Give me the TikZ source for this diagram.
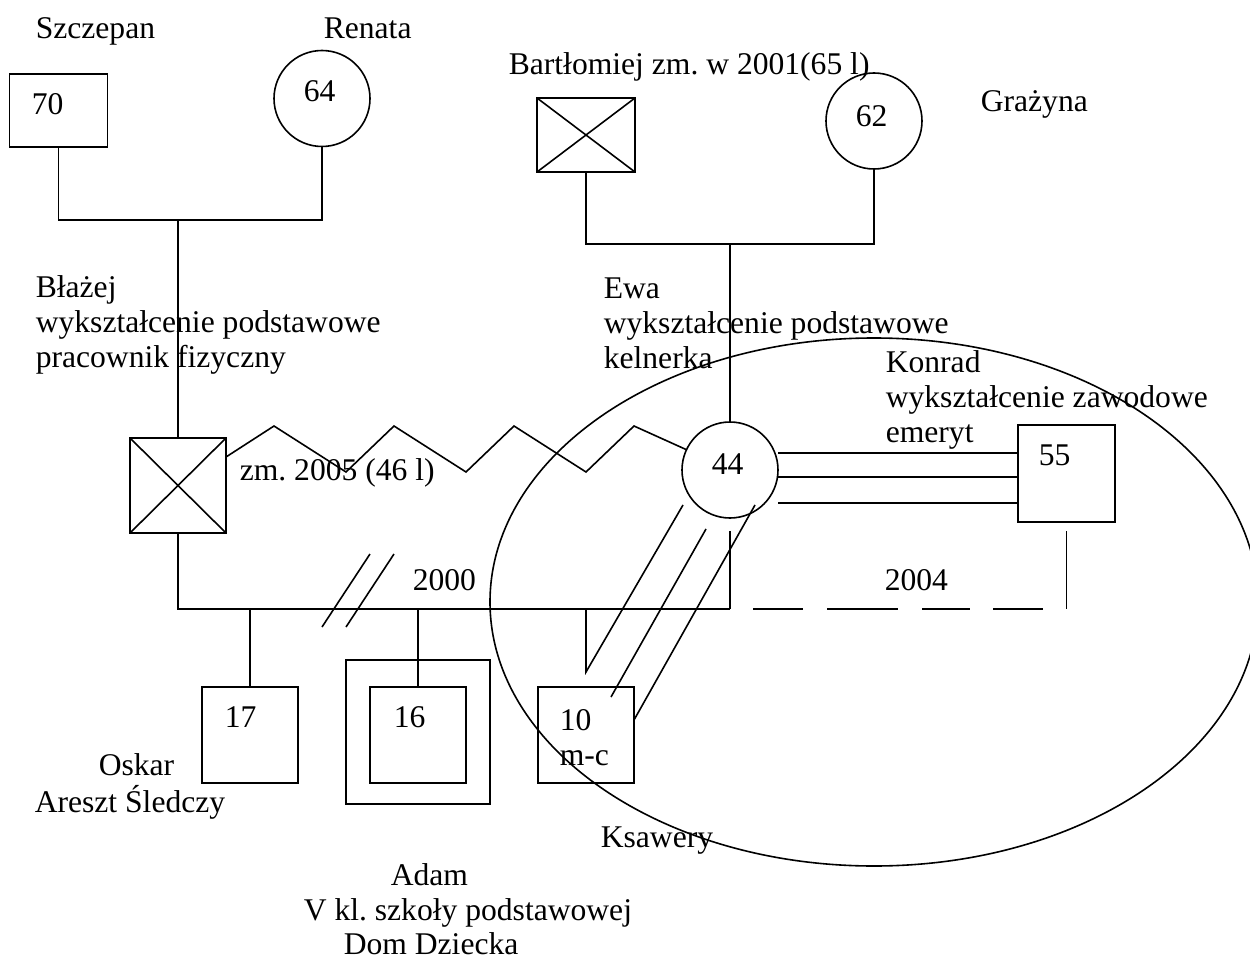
\documentclass[tikz,border=0pt]{standalone}
\usepackage{fontspec}
\setmainfont{Liberation Serif}
\usetikzlibrary{calc,shapes.geometric}
\newcommand{\famfont}{\fontsize{31.6pt}{35pt}\selectfont}
\frenchspacing

\begin{document}
\begin{tikzpicture}[x=1pt, y=-1pt, line width=1.6pt,
  every node/.style={font=\famfont},
  man/.style={draw, rectangle, inner sep=0pt, outer sep=0pt},
  woman/.style={draw, circle, minimum size=96pt, inner sep=0pt, outer sep=0pt},
  dead/.style={path picture={\draw[line width=1.6pt] (path picture bounding box.north west) -- (path picture bounding box.south east)
      (path picture bounding box.north east) -- (path picture bounding box.south west);}},
  lbl/.style={inner sep=0pt, anchor=base west, align=left},
  dashpat/.style={dash pattern=on 50pt off 24pt on 71pt off 24pt on 48pt off 23pt on 50pt off 47pt, dash phase=314pt}]
\useasboundingbox (0,0) rectangle (1250,960);
% grandparents, father's side
\node[man, minimum width=98pt, minimum height=73pt] (szczepan) at (58.5,110.5) {};
\node[woman] (renata) at (322,98.5) {};
\node[lbl] (tSzczepan) at (35,39) {Szczepan};
\node[lbl] (tRenata) at (323,39) {Renata};
\node[lbl] (n70) at (31,115) {70};
\node[lbl] (n64) at (303,102) {64};
\coordinate (m1) at (178,220);
\draw (szczepan.south) |- (m1) -| (renata.south);
% grandparents, mother's side
\node[man, dead, minimum width=98pt, minimum height=74pt] (bartlomiej) at (586,135) {};
\node[woman] (grazyna) at (874,121) {};
\node[lbl] (tBart) at (508,75) {Bartłomiej zm. w 2001(65 l)};
\node[lbl] (n62) at (855,127) {62};
\node[lbl] (tGrazyna) at (980,112) {Grażyna};
\coordinate (m2) at (730,244);
\draw (bartlomiej.south) |- (m2) -| (grazyna.south);
% parents (multi-line labels: base is the last line)
\node[man, dead, minimum width=96pt, minimum height=95pt] (blazej) at (178,485.5) {};
\node[woman] (ewa) at (730,470) {};
\node[man, minimum size=97pt] (konrad) at (1066.5,473.5) {};
\draw (m1) -- (blazej.north);
\draw (m2) -- (ewa.north);
\node[lbl] (tBlazej) at (35,367) {Błażej\\wykształcenie podstawowe\\pracownik fizyczny};
\node[lbl] (tEwa) at (603,368) {Ewa\\wykształcenie podstawowe\\kelnerka};
\node[lbl] (tKonrad) at (885,442) {Konrad\\wykształcenie zawodowe\\emeryt};
\node[lbl] (n44) at (711,474) {44};
\node[lbl] (n55) at (1038,465) {55};
\node[lbl] (tZm) at (239,480) {zm. 2005 (46 l)};
\draw ($(blazej.north east)+(0,19)$) -- ++(48,-31) -- ++(72,46) -- ++(48,-46) -- ++(72,46)
  -- ++(48,-46) -- ++(72,46) -- ++(48,-46) -- (ewa.155);
\foreach \dy in {-17,7,33}
  \draw ($(ewa.east)+(0,\dy)$) -- ($(ewa.east -| konrad.west)+(0,\dy)$);
% marriage lines
\coordinate (ml) at (178,609);
\draw (blazej.south) -- (ml) -- (ml -| ewa.south);
\draw ($(ewa.south)+(0,13)$) -- (ml -| ewa.south);
\draw[dashpat] (ml -| ewa.south) -- (ml -| konrad.south);
\draw ($(konrad.south)+(0,9)$) -- (ml -| konrad.south);
\draw ($(ml)+(144,18)$) -- ++(48,-73);
\draw ($(ml)+(168,18)$) -- ++(48,-73);
\node[lbl] (y2000) at (412,590) {2000};
\node[lbl] (y2004) at (884,590) {2004};
% children
\node[man, minimum size=96pt] (oskar) at (250,735) {};
\node[man, minimum size=144pt] (adamOut) at (418,732) {};
\node[man, minimum size=96pt] (adam) at (418,735) {};
\node[man, minimum size=96pt] (ksawery) at (586,735) {};
\draw (ml -| oskar.north) -- (oskar.north);
\draw (ml -| adam.north) -- (adam.north);
\draw (ml -| ksawery.north) -- ++(0,63) -- ($(ewa.center)+(-47,35)$);
\draw ($(ksawery.north)+(25,10)$) -- ($(ewa.center)+(-24,59)$);
\draw ($(ksawery.east)+(0,-15)$) -- ($(ewa.center)+(25,35)$);
\node[lbl] (n17) at (224,727) {17};
\node[lbl] (n16) at (393,727) {16};
\node[lbl] (n10) at (559,765) {10\\m-c};
\node[lbl] (tOskar) at (98,775) {Oskar};
\node[lbl] (tOskar2) at (34,812) {Areszt Śledczy};
\node[lbl] (tKsawery) at (600,847) {Ksawery};
\node[lbl] (tAdam) at (390,885) {Adam};
\node[lbl] (tAdam2) at (303,920) {V kl. szkoły podstawowej};
\node[lbl] (tAdam3) at (343,954) {Dom Dziecka};
% household
\node[draw, ellipse, minimum width=768pt, minimum height=528pt, inner sep=0pt] (home) at (874,602) {};
\end{tikzpicture}
\end{document}
